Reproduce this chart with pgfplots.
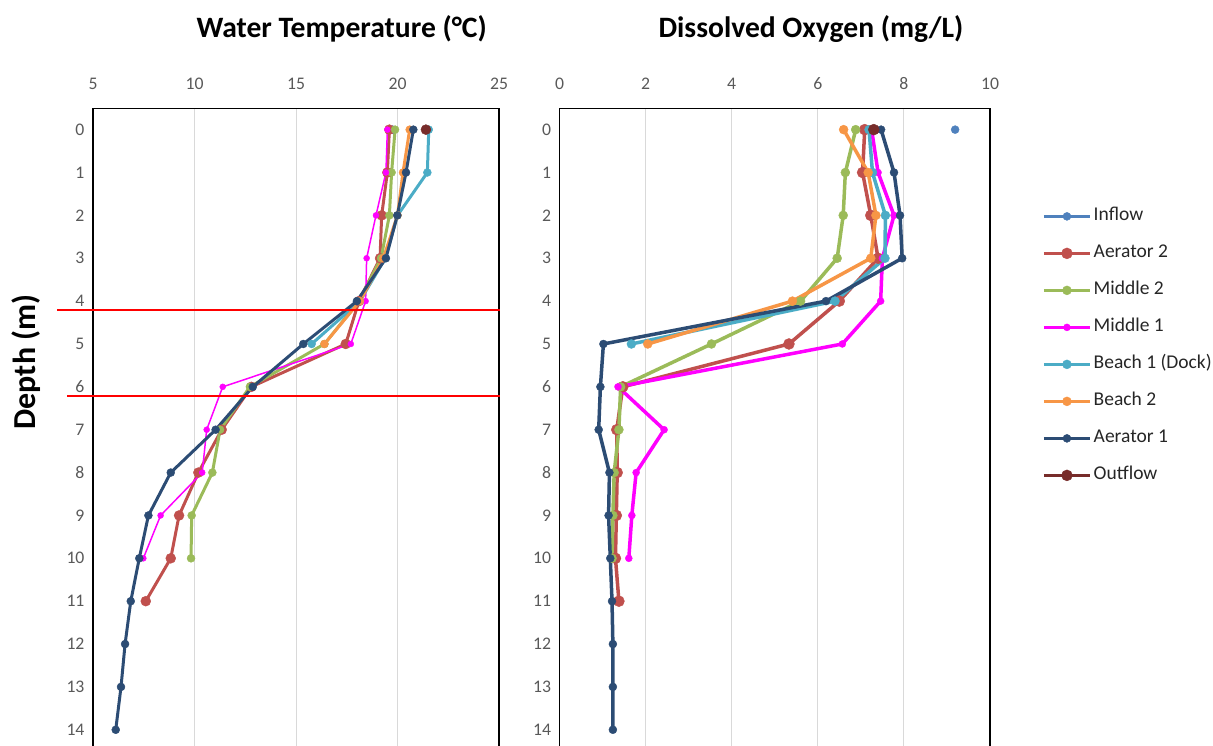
\documentclass[border=0pt]{standalone}
\usepackage{fontspec}
\setmainfont{Carlito}
\usepackage{pgfplots}
\pgfplotsset{compat=1.18}
\definecolor{cInflow}{HTML}{4F81BD}
\definecolor{cAer2}{HTML}{C0504D}
\definecolor{cMid2}{HTML}{9BBB59}
\definecolor{cMid1}{HTML}{FF00FF}
\definecolor{cBeach1}{HTML}{4BACC6}
\definecolor{cBeach2}{HTML}{F79646}
\definecolor{cAer1}{HTML}{2C4C74}
\definecolor{cOut}{HTML}{772C2A}
\definecolor{tickgray}{HTML}{595959}
\definecolor{gridgray}{HTML}{D9D9D9}
\definecolor{legtext}{HTML}{262626}

\pgfplotsset{
  prof/.style={
    scale only axis, anchor=center,
    y dir=reverse, ymin=-0.5, ymax=14.5, ytick={0,...,14}, height=643pt,
    xticklabel pos=upper,
    xmajorgrids, grid style={line width=1pt, gridgray},
    major tick length=0pt,
    axis line style={line width=1.3pt, black},
    tick label style={font=\fontsize{17.7}{20}\selectfont, text=tickgray},
    /pgf/number format/assume math mode=true,
    xticklabel shift=15pt, yticklabel shift=5pt,
    every axis plot/.append style={line width=3pt, mark=*, mark size=4pt, mark options={line width=0.4pt}},
  }
}

\begin{document}
\begin{tikzpicture}
\path[use as bounding box] (0pt,0pt) rectangle (1213pt,-746pt);

% titles
\node[anchor=base, font=\fontsize{29.6}{32}\selectfont\bfseries] at (341.7pt,-38pt) {Water Temperature (°C)};
\node[anchor=base, font=\fontsize{29.6}{32}\selectfont\bfseries] at (811pt,-38pt) {Dissolved Oxygen (mg/L)};
\node[anchor=base, rotate=90, font=\fontsize{32}{34}\selectfont\bfseries] at (35pt,-362pt) {Depth (m)};

% temperature
\begin{axis}[prof, at={(296pt,-429.7pt)}, width=406pt, xmin=5, xmax=25, xtick={5,10,...,25}, clip=false]
\addplot[cInflow] coordinates {(19.76,0)};
\addplot[cAer2, mark size=5pt] coordinates {(19.6,0)(19.5,1)(19.22,2)(19.14,3)(18.1,4)(17.45,5)(12.8,6)(11.34,7)(10.19,8)(9.24,9)(8.83,10)(7.6,11)};
\addplot[cMid2] coordinates {(19.88,0)(19.71,1)(19.6,2)(19.19,3)(18.1,4)(16.4,5)(12.73,6)(11.26,7)(10.88,8)(9.86,9)(9.83,10)};
\addplot[cMid1, line width=1.5pt, mark size=3pt] coordinates {(19.5,0)(19.43,1)(18.94,2)(18.48,3)(18.43,4)(17.7,5)(11.39,6)(10.6,7)(10.38,8)(8.33,9)(7.48,10)};
\addplot[cBeach1] coordinates {(21.54,0)(21.47,1)(20.0,2)(19.4,3)(18.15,4)(15.77,5)};
\addplot[cBeach2] coordinates {(20.6,0)(20.27,1)(20.0,2)(19.3,3)(18.15,4)(16.4,5)};
\addplot[cAer1] coordinates {(20.78,0)(20.42,1)(19.99,2)(19.43,3)(18.0,4)(15.36,5)(12.87,6)(11.04,7)(8.83,8)(7.73,9)(7.28,10)(6.86,11)(6.58,12)(6.38,13)(6.12,14)};
\addplot[cOut, mark size=5pt] coordinates {(21.4,0)};
\draw[red, line width=2pt] (axis cs:3.23,4.216) -- (axis cs:25.05,4.216);
\draw[red, line width=2pt] (axis cs:3.72,6.207) -- (axis cs:25.05,6.207);
\end{axis}

% dissolved oxygen
\begin{axis}[prof, at={(774.75pt,-429.7pt)}, width=430.5pt, xmin=0, xmax=10, xtick={0,2,...,10},
  every axis plot/.append style={line width=3.5pt},
  legend style={at={(1.1208,0.8453)}, anchor=north west, draw=none, fill=none,
    font=\fontsize{19.5}{22}\selectfont, text=legtext, inner sep=0pt,
    row sep=20pt, column sep=2pt,
    nodes={inner sep=0pt, text height=13pt, text depth=4pt}},
  legend cell align=left,
  legend image code/.code={\draw[mark repeat=2,mark phase=2,#1] plot coordinates {(0pt,0pt) (23pt,0pt) (46pt,0pt)};},
]
\addplot[cInflow] coordinates {(9.19,0)};
\addlegendentry{Inflow}
\addplot[cAer2, mark size=5.5pt] coordinates {(7.09,0)(7.04,1)(7.23,2)(7.4,3)(6.5,4)(5.33,5)(1.47,6)(1.33,7)(1.34,8)(1.32,9)(1.3,10)(1.38,11)};
\addlegendentry{Aerator 2}
\addplot[cMid2, mark size=4.5pt] coordinates {(6.88,0)(6.64,1)(6.59,2)(6.45,3)(5.6,4)(3.53,5)(1.42,6)(1.38,7)(1.27,8)(1.24,9)(1.22,10)};
\addlegendentry{Middle 2}
\addplot[cMid1, mark size=3.5pt] coordinates {(7.25,0)(7.4,1)(7.77,2)(7.5,3)(7.46,4)(6.57,5)(1.36,6)(2.43,7)(1.78,8)(1.68,9)(1.61,10)};
\addlegendentry{Middle 1}
\addplot[cBeach1, mark size=4.5pt] coordinates {(7.19,0)(7.27,1)(7.57,2)(7.56,3)(6.4,4)(1.67,5)};
\addlegendentry{Beach 1 (Dock)}
\addplot[cBeach2, mark size=4.5pt] coordinates {(6.6,0)(7.17,1)(7.35,2)(7.23,3)(5.41,4)(2.05,5)};
\addlegendentry{Beach 2}
\addplot[cAer1] coordinates {(7.47,0)(7.77,1)(7.91,2)(7.96,3)(6.19,4)(1.02,5)(0.95,6)(0.91,7)(1.16,8)(1.14,9)(1.18,10)(1.22,11)(1.24,12)(1.24,13)(1.24,14)};
\addlegendentry{Aerator 1}
\addplot[cOut, mark size=5.5pt] coordinates {(7.3,0)};
\addlegendentry{Outflow}
\end{axis}
\end{tikzpicture}
\end{document}
